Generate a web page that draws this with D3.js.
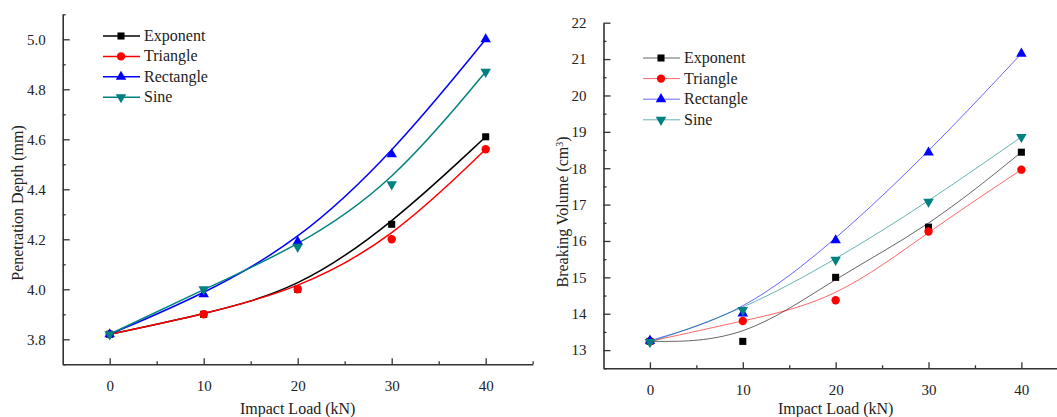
<!DOCTYPE html>
<html>
<head>
<meta charset="utf-8">
<script src="https://cdn.jsdelivr.net/npm/d3@7"></script>
<style>
  body { margin: 0; background: #fff; }
  text { font-family: "Liberation Serif", "Times New Roman", serif; fill: #222; }
</style>
</head>
<body>
<div id="chart"></div>
<script>
var width  = 1057;
var height = 417;

// data
var loads = [0, 10, 20, 30, 40];
var seriesNames = ["Exponent", "Triangle", "Rectangle", "Sine"];

var depthExponent  = [3.82, 3.90, 4.00, 4.26, 4.61];
var depthTriangle  = [3.82, 3.90, 4.00, 4.20, 4.56];
var depthRectangle = [3.82, 3.98, 4.19, 4.54, 5.00];
var depthSine      = [3.82, 4.00, 4.17, 4.42, 4.87];

var volExponent  = [13.24, 13.24, 15.00, 16.38, 18.44];
var volTriangle  = [13.24, 13.80, 14.37, 16.26, 17.96];
var volRectangle = [13.26, 14.01, 16.02, 18.43, 21.15];
var volSine      = [13.22, 14.10, 15.48, 17.08, 18.86];

var xTicks      = [0, 10, 20, 30, 40];
var depthTicks  = [3.8, 4.0, 4.2, 4.4, 4.6, 4.8, 5.0];
var volTicks    = [13, 14, 15, 16, 17, 18, 19, 20, 21, 22];

var colors  = ["#000000", "#ff0000", "#0000ff", "#008080"];
var symbols = [d3.symbolSquare, d3.symbolCircle, d3.symbolTriangle, d3.symbolTriangle];
var symSize = [50, 55, 48, 48];
var symRot  = [0, 0, 0, 180];

var svg = d3.select("#chart").append("svg")
      .attr("width", width)
      .attr("height", height);

function drawPanel(p) {
  var x = d3.scaleLinear().domain([-5, 45]).range([p.left, p.right]);
  var y = d3.scaleLinear().domain(p.yDomain).range([p.bottom, p.top]);
  var g = svg.append("g");

  // axes, ticks inside
  var xAxis = g.append("g").attr("transform", "translate(0," + p.bottom + ")")
      .call(d3.axisBottom(x).tickValues(xTicks).tickSizeInner(-6).tickSizeOuter(0)
        .tickPadding(16).tickFormat(d3.format("d")));
  g.append("g").attr("transform", "translate(0," + p.bottom + ")")
      .call(d3.axisBottom(x).tickValues([5, 15, 25, 35, 45]).tickSize(-3).tickFormat(""))
      .select(".domain").remove();

  var yAxis = g.append("g").attr("transform", "translate(" + p.left + ",0)")
      .call(d3.axisLeft(y).tickValues(p.yTicks).tickSizeInner(-7).tickSizeOuter(0)
        .tickPadding(17).tickFormat(p.fmt));
  g.append("g").attr("transform", "translate(" + p.left + ",0)")
      .call(d3.axisLeft(y).tickValues(p.minor).tickSize(-3).tickFormat(""))
      .select(".domain").remove();

  g.selectAll(".domain").attr("stroke", "#333").attr("stroke-width", 1.6);
  g.selectAll(".tick line").attr("stroke", "#333").attr("stroke-width", 1.3);
  g.selectAll(".tick text").attr("font-size", 15)
      .attr("font-family", "Liberation Serif").attr("fill", "#222");

  // titles
  g.append("text")
      .attr("x", (p.left + p.right) / 2).attr("y", 414)
      .attr("text-anchor", "middle").attr("font-size", 16)
      .text("Impact Load (kN)");
  var yt = g.append("text")
      .attr("transform", "translate(" + p.yTitleX + "," + p.yTitleY + ") rotate(-90)")
      .attr("text-anchor", "middle").attr("font-size", 16);
  yt.append("tspan").text(p.yTitle);
  if (p.sup) {
    yt.append("tspan").attr("baseline-shift", "super").attr("font-size", 10).text(p.sup);
    yt.append("tspan").text(")");
  }

  var line = d3.line()
      .x(function (d, i) { return x(loads[i]); })
      .y(function (d) { return y(d); })
      .curve(d3.curveBasis);

  p.series.forEach(function (s, k) {
    g.append("path").datum(s)
      .attr("d", line)
      .attr("fill", "none")
      .attr("stroke", colors[k])
      .attr("stroke-width", p.lineWidth)
      .attr("stroke-opacity", p.lineOpacity);
  });
  p.series.forEach(function (s, k) {
    g.selectAll(null).data(s).enter().append("path")
      .attr("d", d3.symbol().type(symbols[k]).size(symSize[k]))
      .attr("transform", function (d, i) {
        return "translate(" + x(loads[i]) + "," + y(d) + ") rotate(" + symRot[k] + ")";
      })
      .attr("fill", colors[k]);
  });

  // legend
  seriesNames.forEach(function (name, k) {
    var ly = p.legY + k * p.legStep;
    g.append("line")
      .attr("x1", p.legX).attr("x2", p.legX + 37)
      .attr("y1", ly).attr("y2", ly)
      .attr("stroke", colors[k]).attr("stroke-width", p.lineWidth)
      .attr("stroke-opacity", p.lineOpacity);
    g.append("path")
      .attr("d", d3.symbol().type(symbols[k]).size(symSize[k]))
      .attr("transform", "translate(" + (p.legX + 18) + "," + ly + ") rotate(" + symRot[k] + ")")
      .attr("fill", colors[k]);
    g.append("text")
      .attr("x", p.legX + 41).attr("y", ly + 5)
      .attr("font-size", 16)
      .text(name);
  });
}

drawPanel({
  left: 62.7, right: 532.7, top: 14.3, bottom: 364.3,
  yDomain: [3.7, 5.1], yTicks: depthTicks,
  minor: [3.7, 3.9, 4.1, 4.3, 4.5, 4.7, 4.9, 5.1],
  fmt: d3.format(".1f"),
  yTitle: "Penetration Depth (mm)", yTitleX: 23, yTitleY: 203,
  series: [depthExponent, depthTriangle, depthRectangle, depthSine],
  lineWidth: 1.5, lineOpacity: 1,
  legX: 103, legY: 36, legStep: 20.4
});

drawPanel({
  left: 603.5, right: 1067.8, top: 22.7, bottom: 368.3,
  yDomain: [12.5, 22], yTicks: volTicks,
  minor: [12.5, 13.5, 14.5, 15.5, 16.5, 17.5, 18.5, 19.5, 20.5, 21.5],
  fmt: d3.format("d"),
  yTitle: "Breaking Volume (cm", sup: "3", yTitleX: 568, yTitleY: 212,
  series: [volExponent, volTriangle, volRectangle, volSine],
  lineWidth: 1, lineOpacity: 0.6,
  legX: 643, legY: 58, legStep: 20.6
});
</script>
</body>
</html>
